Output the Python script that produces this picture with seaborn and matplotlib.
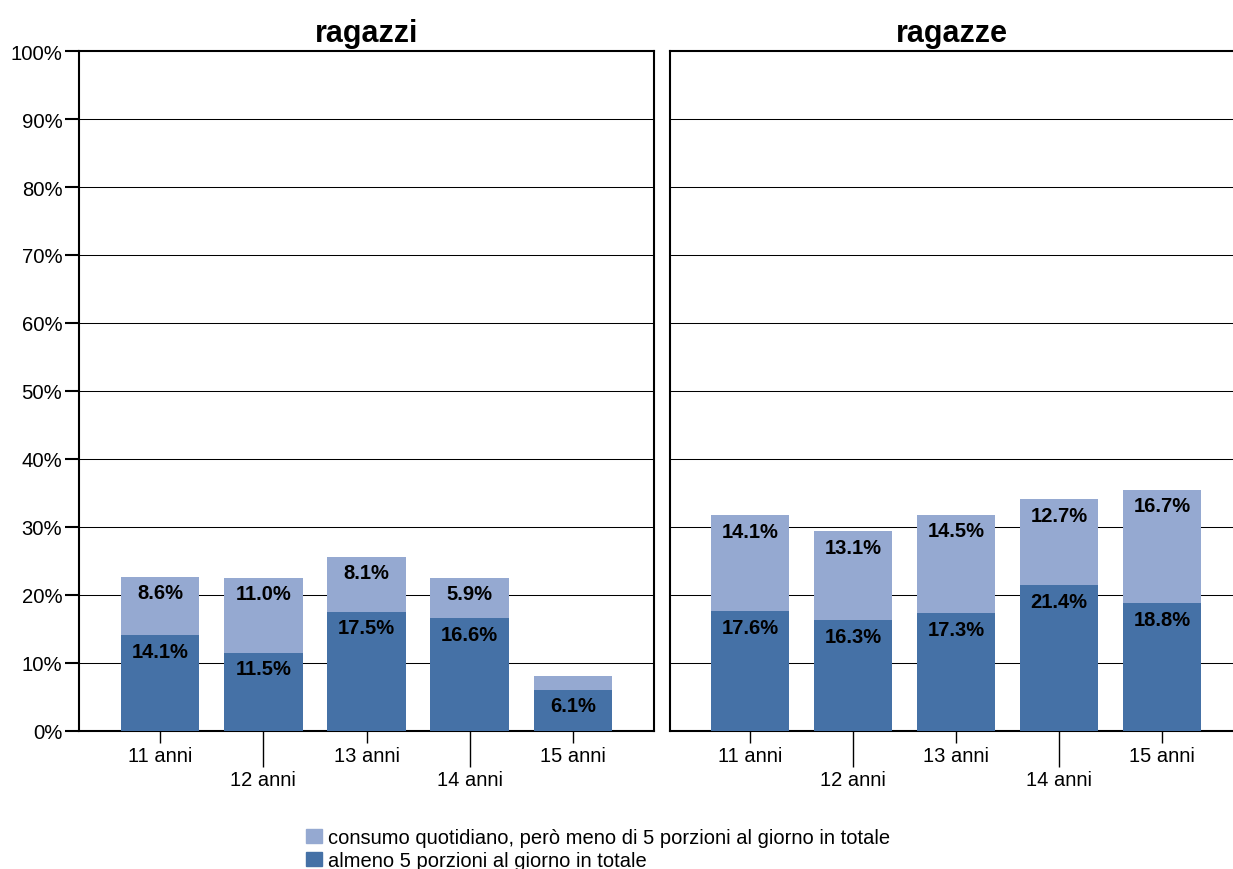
import pandas as pd
import numpy as np
import matplotlib
matplotlib.use("Agg")
import matplotlib.pyplot as plt
import seaborn as sns
from matplotlib.patches import Patch

ages = ["11 anni", "12 anni", "13 anni", "14 anni", "15 anni"]
boys_five = [14.1, 11.5, 17.5, 16.6, 6.1]
boys_daily = [8.6, 11.0, 8.1, 5.9, 2.0]
girls_five = [17.6, 16.3, 17.3, 21.4, 18.8]
girls_daily = [14.1, 13.1, 14.5, 12.7, 16.7]

light = "#95a9d1"
dark = "#4571a6"

sns.set_theme(style="white")
plt.rcParams['font.family'] = ['Liberation Sans', 'DejaVu Sans']
plt.rcParams['text.color'] = 'black'
plt.rcParams['xtick.color'] = 'black'
plt.rcParams['ytick.color'] = 'black'
plt.rcParams['xtick.labelcolor'] = 'black'
plt.rcParams['ytick.labelcolor'] = 'black'

fig = plt.figure(figsize=(12.33, 8.7), dpi=100)
ax1 = fig.add_axes([79 / 1233, 138 / 870, 575 / 1233, 680 / 870])
ax2 = fig.add_axes([670 / 1233, 138 / 870, 563 / 1233, 680 / 870])


def draw_panel(ax, five, daily, title, xlim, show_y):
    df = pd.DataFrame({"age": ages, "five": five, "daily": daily})
    df["total"] = df["five"] + df["daily"]
    for y in range(10, 100, 10):
        ax.axhline(y, color="black", lw=0.75, zorder=0.5)
    sns.barplot(data=df, x="age", y="total", color=light, width=0.76,
                saturation=1, linewidth=0, ax=ax, zorder=2)
    sns.barplot(data=df, x="age", y="five", color=dark, width=0.76,
                saturation=1, linewidth=0, ax=ax, zorder=3)
    for i, row in df.iterrows():
        ax.text(i, row["five"] - 2.35, f"{row['five']:.1f}%", ha="center", va="center",
                fontsize=14.5, fontweight="bold", color="black", zorder=5)
        if row["daily"] >= 4:
            ax.text(i, row["total"] - 2.35, f"{row['daily']:.1f}%", ha="center",
                    va="center", fontsize=14.5, fontweight="bold", color="black", zorder=5)
    ax.set_ylim(0, 100)
    ax.set_xlim(*xlim)
    ax.set_xlabel("")
    ax.set_ylabel("")
    ax.set_title(title, fontsize=22, fontweight="bold", pad=7)
    ax.set_xticks(range(len(ages)))
    ax.set_xticklabels(ages, fontsize=14.5)
    ax.tick_params(axis="x", bottom=True, length=8.6, width=1, color="black", pad=2)
    for i, t in enumerate(ax.xaxis.get_major_ticks()):
        if i % 2 == 1:
            t.set_pad(19.4)
            t.tick1line.set_markersize(26)
    if show_y:
        ax.set_yticks(range(0, 101, 10))
        ax.set_yticklabels([f"{v}%" for v in range(0, 101, 10)], fontsize=14.6)
        ax.tick_params(axis="y", left=True, length=10, width=1.5, color="black", pad=2)
    else:
        ax.set_yticks([])
    for s in ax.spines.values():
        s.set_color("black")
        s.set_linewidth(1.5)
        s.set_visible(True)


draw_panel(ax1, boys_five, boys_daily, "ragazzi", (-0.786, 4.786), True)
draw_panel(ax2, girls_five, girls_daily, "ragazze", (-0.777, 4.689), False)
ax2.spines["right"].set_visible(False)

handles = [Patch(color=light, label="consumo quotidiano, però meno di 5 porzioni al giorno in totale"),
           Patch(color=dark, label="almeno 5 porzioni al giorno in totale")]
fig.legend(handles=handles, loc="upper left", bbox_to_anchor=(306 / 1233, 1 - 829 / 870),
           frameon=False, fontsize=14.5, handlelength=0.8, handleheight=0.75,
           handletextpad=0.3, labelspacing=0.2, borderpad=0, borderaxespad=0)

fig.savefig("out.png", dpi=100)
